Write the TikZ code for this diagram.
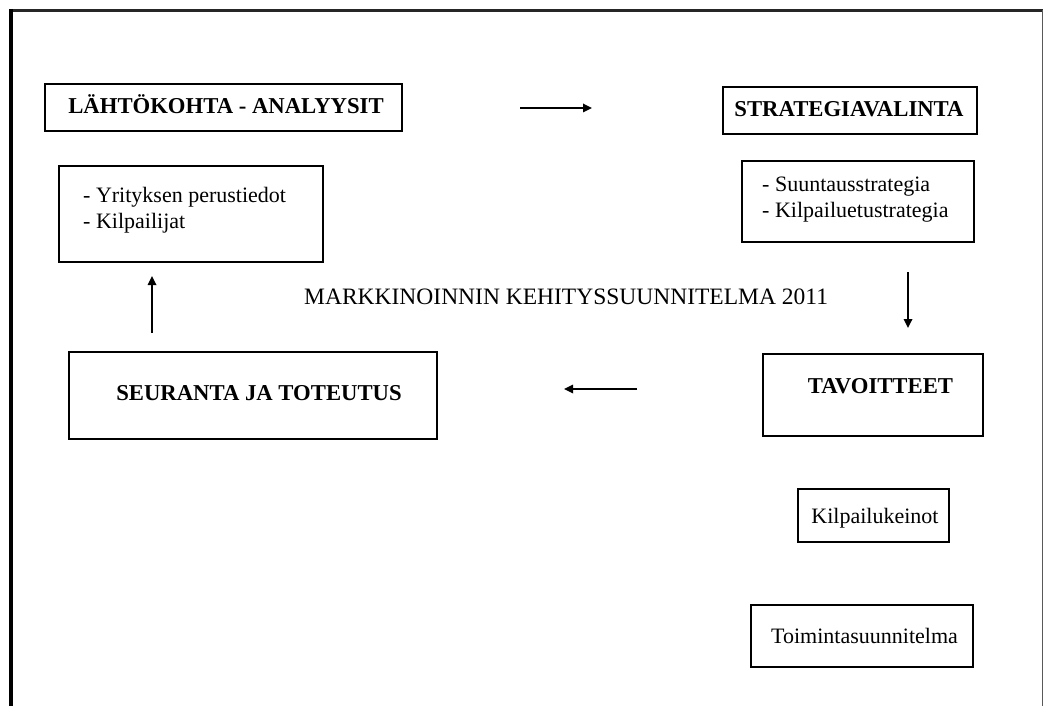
\documentclass[tikz,border=0pt]{standalone}
\usepackage{fontspec}
\setmainfont{Liberation Serif}
\usetikzlibrary{arrows.meta}
\begin{document}
\begin{tikzpicture}[x=1pt,y=-1pt,
  box/.style={draw=black,line width=1.3pt,inner sep=0pt},
  headtext/.style={font=\fontsize{22.7}{26}\selectfont\bfseries,inner sep=0pt},
  bodytext/.style={font=\fontsize{22}{26}\selectfont,inner sep=0pt,align=left},
  flow/.style={line width=1.7pt,-{Triangle[length=9pt,width=8.5pt]}}]
\useasboundingbox (0,0) rectangle (1044,706);

% page frame
\draw[line width=2.6pt,black!85] (9,10.5) -- (1043,10.5);
\draw[line width=3.6pt,black] (11,9) -- (11,706);
\draw[line width=1.2pt,black!65] (1042.5,10) -- (1042.5,706);

% boxes
\node[box,minimum width=357pt,minimum height=47pt] (lahto) at (223.5,107.5) {};
\node[box,minimum width=264pt,minimum height=96pt] (yrit) at (191,214) {};
\node[box,minimum width=254pt,minimum height=47pt] (strat) at (850,110.5) {};
\node[box,minimum width=232pt,minimum height=81pt] (suunt) at (858,201.5) {};
\node[box,minimum width=368pt,minimum height=87pt] (seur) at (253,395.5) {};
\node[box,minimum width=220pt,minimum height=82pt] (tavo) at (873,395) {};
\node[box,minimum width=151pt,minimum height=53pt] (kilp) at (873.5,515.5) {};
\node[box,minimum width=222pt,minimum height=62pt] (toim) at (862,636) {};

% texts (multi-line nodes sit on the baseline of their last line)
\node[headtext,anchor=base] (lahtoT) at (226,114) {LÄHTÖKOHTA - ANALYYSIT};
\node[bodytext,anchor=base west] (yritT) at (83,228) {- Yrityksen perustiedot\\- Kilpailijat};
\node[headtext,anchor=base] (stratT) at (849,117) {STRATEGIAVALINTA};
\node[bodytext,anchor=base west] (suuntT) at (762,217) {- Suuntausstrategia\\- Kilpailuetustrategia};
\node[font=\fontsize{23.5}{26}\selectfont,inner sep=0pt,anchor=base west] (title) at (304,304) {MARKKINOINNIN KEHITYSSUUNNITELMA 2011};
\node[headtext,anchor=base] (seurT) at (259,400) {SEURANTA JA TOTEUTUS};
\node[headtext,anchor=base] (tavoT) at (880.5,393) {TAVOITTEET};
\node[bodytext,anchor=base] (kilpT) at (875,523) {Kilpailukeinot};
\node[bodytext,anchor=base] (toimT) at (864.5,643) {Toimintasuunnitelma};

% arrow end points
\coordinate (r1) at (520,108);
\coordinate (r2) at (592,108);
\coordinate (d1) at (908,272);
\coordinate (d2) at (908,328);
\coordinate (l1) at (637,389);
\coordinate (l2) at (564,389);
\coordinate (u1) at (152,333);
\coordinate (u2) at (152,276);

% cycle arrows
\draw[flow] (r1) -- (r2);
\draw[flow] (d1) -- (d2);
\draw[flow] (l1) -- (l2);
\draw[flow] (u1) -- (u2);
\end{tikzpicture}
\end{document}
